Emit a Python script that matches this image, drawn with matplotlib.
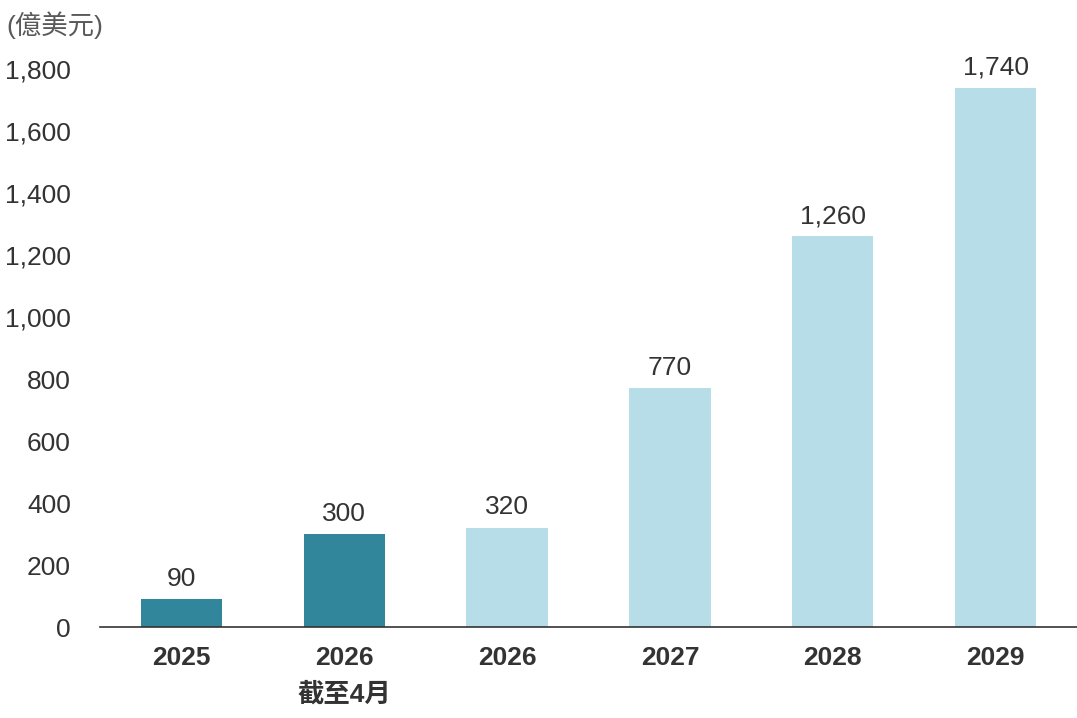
import matplotlib.pyplot as plt

plt.rcParams['font.family'] = ['Liberation Sans', 'Noto Sans CJK TC']

categories = ['2025', '2026\n截至4月', '2026', '2027', '2028', '2029']
values = [90, 300, 320, 770, 1260, 1740]
colors = ['#31869b', '#31869b', '#b7dde8', '#b7dde8', '#b7dde8', '#b7dde8']
yticks = [0, 200, 400, 600, 800, 1000, 1200, 1400, 1600, 1800]
unit = '(億美元)'

text_color = '#333333'

fig = plt.figure(figsize=(10.77, 7.18), dpi=100)
ax = fig.add_axes([0.0929, 0.1267, 0.9071, 0.7772])

x = range(len(categories))
bars = ax.bar(x, values, width=0.5, color=colors)
ax.bar_label(bars, labels=[f'{v:,}' for v in values], padding=6,
             fontsize=19, color=text_color)

ax.set_xlim(-0.5, 5.5)
ax.set_ylim(0, 1800)
ax.set_yticks(yticks)
ax.set_yticklabels([f'{t:,}' for t in yticks])
ax.set_xticks(list(x))
ax.set_xticklabels(categories, fontweight='bold', linespacing=1.6)

ax.tick_params(axis='y', length=0, pad=21, labelsize=19, labelcolor=text_color)
ax.tick_params(axis='x', length=0, pad=14, labelsize=19, labelcolor=text_color)

for side in ['top', 'right', 'left']:
    ax.spines[side].set_visible(False)
ax.spines['bottom'].set_color('#333333')
ax.spines['bottom'].set_linewidth(1.2)

fig.text(0.006, 0.965, unit, fontsize=19, color='#595959', va='center', ha='left')

fig.savefig('out.png', dpi=100)
